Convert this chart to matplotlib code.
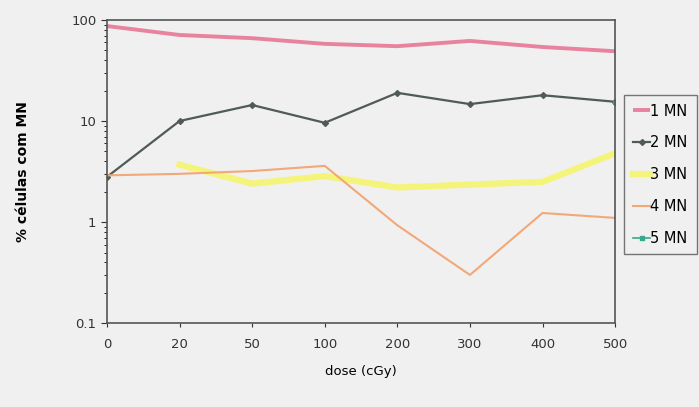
import numpy as np
import matplotlib
matplotlib.use("Agg")
import matplotlib.pyplot as plt

doses = ["0", "20", "50", "100", "200", "300", "400", "500"]
mn1 = [87, 71, 66, 58, 55, 62, 54, 49]
mn2 = [2.8, 10, 14.4, 9.6, 19, 14.7, 18, 15.5]
mn3 = [np.nan, 3.7, 2.4, 2.85, 2.2, 2.35, 2.5, 4.8]
mn4 = [2.9, 3.0, 3.2, 3.6, 0.93, 0.30, 1.23, 1.1]
mn5 = [np.nan, np.nan, np.nan, np.nan, np.nan, np.nan, np.nan, 15.5]

bg = "#f0f0f0"
fig = plt.figure(figsize=(6.99, 4.07), dpi=100, facecolor=bg)
ax = fig.add_axes([0.153, 0.206, 0.727, 0.745], facecolor=bg)
x = np.arange(len(doses))

ax.plot(x, mn1, color="#e8839f", lw=2.8, label="1 MN", solid_capstyle="butt")
ax.plot(x, mn2, color="#505a58", lw=1.6, marker="D", ms=3, label="2 MN")
ax.plot(x, mn3, color="#f4f47a", lw=4.5, label="3 MN")
ax.plot(x, mn4, color="#f2a878", lw=1.5, label="4 MN")
ax.plot(x, mn5, color="#3aa88e", lw=1.2, marker="s", ms=3, label="5 MN")

ax.set_yscale("log")
ax.set_ylim(0.1, 100)
ax.set_xlim(0, 7)
ax.set_xticks(x)
ax.set_xticklabels(doses)
ax.set_yticks([0.1, 1, 10, 100])
ax.set_yticklabels(["0.1", "1", "10", "100"])
ax.tick_params(axis="both", labelsize=9.5, colors="#333333", direction="out")
ax.tick_params(axis="x", length=3, pad=8)
ax.tick_params(axis="y", which="major", length=4)
ax.tick_params(axis="y", which="minor", length=2)
for s in ax.spines.values():
    s.set_color("#555555")
    s.set_linewidth(1.2)

ax.set_xlabel("dose (cGy)", fontsize=9.5, labelpad=10)
ax.set_ylabel("% células com MN", fontsize=10, fontweight="bold", labelpad=30)

leg = fig.legend(loc="upper left", bbox_to_anchor=(0.893, 0.767), fontsize=10.5,
                 handlelength=1.2, handletextpad=0.0, labelspacing=1.15,
                 frameon=True, fancybox=False, borderpad=0.6, borderaxespad=0)
leg.get_frame().set_edgecolor("#555555")
leg.get_frame().set_facecolor(bg)
leg.get_frame().set_linewidth(1.0)

fig.savefig("out.png", dpi=100, facecolor=bg)
